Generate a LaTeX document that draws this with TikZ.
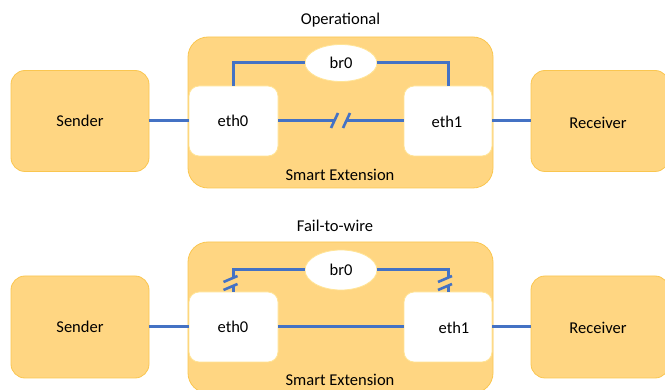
\documentclass[tikz,border=0pt]{standalone}
\usepackage{fontspec}
\setmainfont{Carlito}
\usetikzlibrary{shapes.geometric,calc}
\definecolor{gold}{RGB}{255,214,130}
\definecolor{goldedge}{RGB}{250,198,80}
\definecolor{paleedge}{RGB}{255,228,150}
\definecolor{wire}{RGB}{68,114,196}
\tikzset{
  outerbox/.style={draw=goldedge, line width=0.8pt, fill=gold, rounded corners=14pt},
  extbox/.style={draw=goldedge, line width=0.8pt, fill=gold, rounded corners=20pt, minimum width=305pt, minimum height=151pt},
  ethbox/.style={draw=paleedge, line width=0.8pt, fill=white, rounded corners=10pt, minimum width=89pt, minimum height=70pt},
  brnode/.style={ellipse, draw=paleedge, line width=0.8pt, fill=white, minimum width=72pt, inner sep=0pt},
  wireln/.style={draw=wire, line width=3pt},
  brk/.style={draw=wire, line width=2.6pt},
  lbl/.style={font=\fontsize{16.5}{20}\selectfont, text=black, inner sep=0pt}
}
\begin{document}
\begin{tikzpicture}[x=1pt,y=-1pt]
\useasboundingbox (0,0) rectangle (665,390);
% ---------- Operational ----------
\node[lbl] (op) at (340.5,20) {Operational};
\node[outerbox, minimum width=138pt, minimum height=101pt] (snd1) at (80,121) {};
\node[lbl] at (snd1.center) {Sender};
\node[outerbox, minimum width=138pt, minimum height=101pt] (rcv1) at (600,121) {};
\node[lbl] at (598,123) {Receiver};
\node[extbox] (ext1) at (340.5,112.5) {};
\node[lbl] (se1) at (340,175) {Smart Extension};
\node[ethbox] (e0a) at (233.5,121) {};
\node[lbl] at (233,121) {eth0};
\node[ethbox, minimum width=88pt] (e1a) at (448,121) {};
\node[lbl] at (447,122) {eth1};
\node[brnode, minimum height=37pt] (bra) at (341,63) {};
\node[lbl] at (bra.center) {br0};
\draw[wireln] (snd1.east) -- (e0a.west);
\draw[wireln] (e1a.east) -- (rcv1.west);
\draw[wireln] (e0a.north) |- (bra.west);
\draw[wireln] (bra.east) -| (e1a.north);
\coordinate (ga) at (334.5,121);
\coordinate (gb) at (346.5,121);
\draw[wireln] (e0a.east) -- (ga);
\draw[wireln] (gb) -- (e1a.west);
\draw[brk] (331,128) -- (338,113);
\draw[brk] (343,128) -- (350,113);
% ---------- Fail-to-wire ----------
\node[lbl] (ftw) at (335,226) {Fail-to-wire};
\node[outerbox, minimum width=138pt, minimum height=102pt] (snd2) at (80,327) {};
\node[lbl] at (snd2.center) {Sender};
\node[outerbox, minimum width=138pt, minimum height=102pt] (rcv2) at (600,327) {};
\node[lbl] at (598,328) {Receiver};
\node[extbox] (ext2) at (340.5,317.5) {};
\node[lbl] (se2) at (340,380) {Smart Extension};
\node[ethbox] (e0b) at (233.5,327) {};
\node[lbl] at (233,327) {eth0};
\node[ethbox, minimum width=88pt] (e1b) at (448,327) {};
\node[lbl] at (454,328) {eth1};
\node[brnode, minimum height=40pt] (brb) at (341,270) {};
\node[lbl] at (brb.center) {br0};
\draw[wireln] (snd2.east) -- (e0b.west);
\draw[wireln] (e1b.east) -- (rcv2.west);
\draw[wireln] (e0b.east) -- (e1b.west);
\coordinate (la) at (233.5,278.5);
\coordinate (lb) at (233.5,286.5);
\coordinate (ra) at (448,278.5);
\coordinate (rb) at (448,286.5);
\draw[wireln] (la) |- (brb.west);
\draw[wireln] (lb) -- (e0b.north);
\draw[wireln] (brb.east) -| (ra);
\draw[wireln] (rb) -- (e1b.north);
\draw[brk] (223.5,282) -- (237.5,276);
\draw[brk] (223.5,290) -- (237.5,284);
\draw[brk] (438,282) -- (452,276);
\draw[brk] (438,290) -- (452,284);
\end{tikzpicture}
\end{document}
